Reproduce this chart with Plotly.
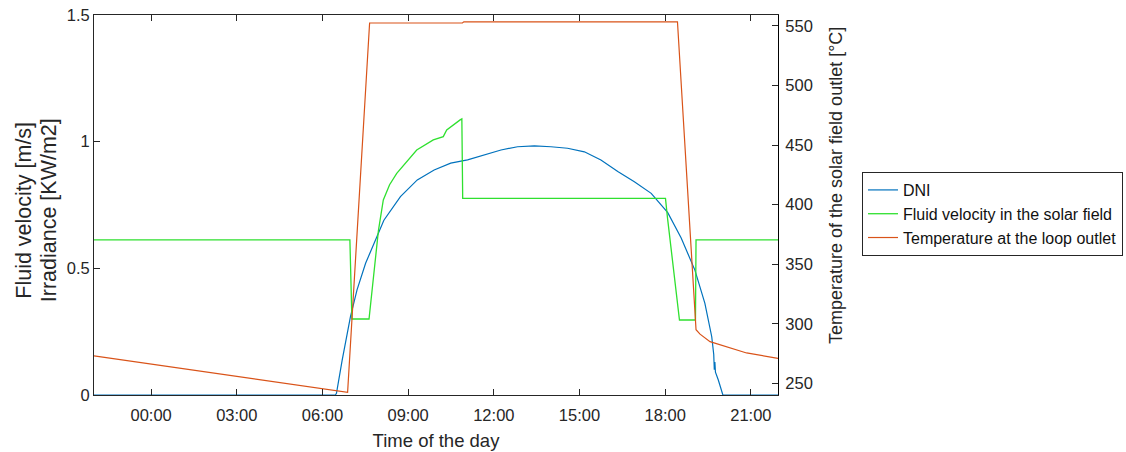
import pandas as pd
import plotly.graph_objects as go

# ---- data (hours relative to midnight of the plotted day) ----
dni_hours = [-2.0, 6.45, 6.49, 6.69, 6.98, 7.21, 7.51, 7.86, 8.15, 8.73, 9.32, 9.91,
             10.49, 11.08, 11.66, 12.25, 12.83, 13.42, 14.0, 14.58, 15.17, 15.75,
             16.34, 16.92, 17.51, 18.09, 18.56, 19.04, 19.39, 19.63, 19.70, 19.72,
             19.74, 19.76, 19.86, 20.02, 21.95]
dni_values = [0.0, 0.0, 0.007, 0.138, 0.309, 0.415, 0.52, 0.612, 0.69, 0.783, 0.849, 0.888,
              0.915, 0.928, 0.947, 0.967, 0.98, 0.983, 0.98, 0.974, 0.96, 0.928,
              0.882, 0.842, 0.796, 0.72, 0.62, 0.493, 0.362, 0.23, 0.16, 0.10,
              0.13, 0.09, 0.059, 0.0, 0.0]

vel_hours = [-2.0, 6.96, 7.03, 7.63, 7.96, 8.13, 8.35, 8.6, 9.3, 9.88, 10.23, 10.35,
             10.82, 10.88, 10.91, 18.01, 18.08, 18.5, 19.06, 19.08, 21.95]
vel_values = [0.612, 0.612, 0.30, 0.30, 0.65, 0.77, 0.83, 0.875, 0.967, 1.007, 1.02, 1.046,
              1.086, 1.09, 0.776, 0.776, 0.70, 0.296, 0.296, 0.612, 0.612]

temp_hours = [-2.0, 6.88, 7.65, 10.9, 10.95, 18.43, 19.08, 19.22, 19.57, 20.27, 20.85, 21.95]
temp_values = [273.0, 242.5, 552.5, 552.5, 553.5, 553.5, 295.0, 291.3, 285.0, 279.5, 275.5, 271.0]

y_left_ticks = [0, 0.5, 1, 1.5]
y_right_ticks = [250, 300, 350, 400, 450, 500, 550]

base = pd.Timestamp("2021-07-01 00:00")


def to_time(hours):
    return [base + pd.Timedelta(hours=h) for h in hours]


FONT = "Liberation Sans, Arial, Helvetica, sans-serif"
AX = "#262626"

fig = go.Figure()
fig.add_trace(go.Scatter(x=to_time(dni_hours), y=dni_values, mode="lines", name="DNI",
                         line=dict(color="#0072BD", width=1.2)))
fig.add_trace(go.Scatter(x=to_time(vel_hours), y=vel_values, mode="lines",
                         name="Fluid velocity in the solar field",
                         line=dict(color="#2FE02F", width=1.3)))
fig.add_trace(go.Scatter(x=to_time(temp_hours), y=temp_values, mode="lines",
                         name="Temperature at the loop outlet", yaxis="y2",
                         line=dict(color="#D95319", width=1.2)))

fig.update_layout(
    width=1126, height=452,
    margin=dict(l=94, r=348, t=15, b=57, autoexpand=False),
    paper_bgcolor="white", plot_bgcolor="white",
    font=dict(family=FONT, color=AX, size=16),
    showlegend=True,
    legend=dict(x=1.1228, y=0.5868, xanchor="left", yanchor="top",
                bordercolor=AX, borderwidth=1, bgcolor="white",
                font=dict(size=16, family=FONT, color="#111")),
    xaxis=dict(
        type="date",
        range=[base - pd.Timedelta(hours=2.0), base + pd.Timedelta(hours=21.95)],
        tick0=base, dtick=3 * 3600 * 1000, tickformat="%H:%M",
        ticks="inside", ticklen=6, tickcolor=AX, mirror="ticks",
        showline=True, linecolor=AX, linewidth=1, showgrid=False, zeroline=False,
        tickfont=dict(size=16.5), ticklabelstandoff=5,
        title=dict(text="Time of the day", font=dict(size=18.5), standoff=11),
    ),
    yaxis=dict(
        range=[0, 1.5], tickvals=y_left_ticks, ticktext=["0", "0.5", "1", "1.5"],
        ticks="inside", ticklen=6, tickcolor=AX,
        showline=True, linecolor=AX, linewidth=1, showgrid=False, zeroline=False,
        tickfont=dict(size=16.5),
    ),
    yaxis2=dict(
        overlaying="y", side="right", range=[240.2, 559.2], tickvals=y_right_ticks,
        ticks="inside", ticklen=6, tickcolor=AX,
        showline=True, linecolor="#000", linewidth=1, showgrid=False, zeroline=False,
        tickfont=dict(size=16.5), ticklabelstandoff=3,
    ),
    annotations=[
        dict(text="Fluid velocity [m/s]", xref="paper", yref="paper", x=-0.1023, y=0.485,
             xanchor="center", yanchor="middle", textangle=-90, showarrow=False,
             font=dict(size=21.5, family=FONT, color=AX)),
        dict(text="Irradiance [KW/m2]", xref="paper", yref="paper", x=-0.0665, y=0.485,
             xanchor="center", yanchor="middle", textangle=-90, showarrow=False,
             font=dict(size=21.5, family=FONT, color=AX)),
        dict(text="Temperature of the solar field outlet [°C]", xref="paper", yref="paper",
             x=1.0848, y=0.55, xanchor="center", yanchor="middle", textangle=-90,
             showarrow=False, font=dict(size=18, family=FONT, color=AX)),
    ],
)

fig.write_html("out.html")
